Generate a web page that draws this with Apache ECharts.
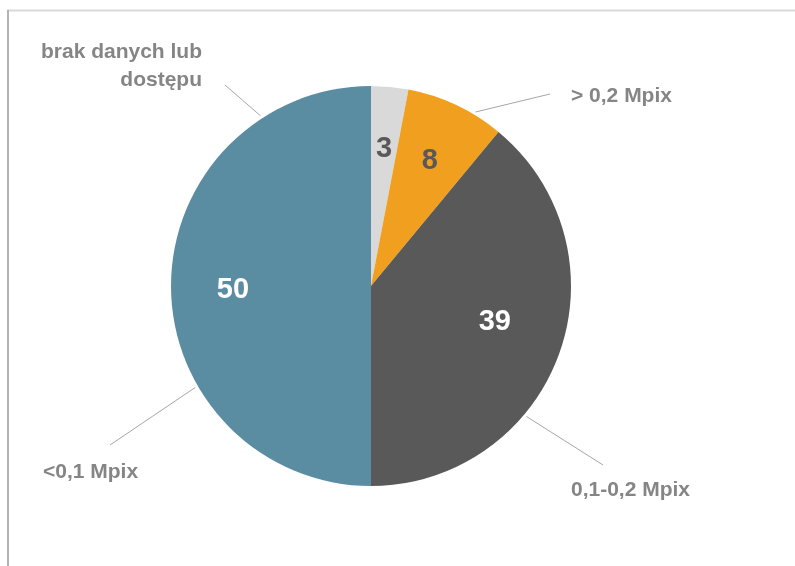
<!DOCTYPE html>
<html>
<head>
<meta charset="utf-8">
<script src="https://cdn.jsdelivr.net/npm/echarts@6/dist/echarts.min.js"></script>
<style>
  html, body { margin: 0; padding: 0; background: #ffffff; }
  #chart { width: 795px; height: 566px; }
</style>
</head>
<body>
<div id="chart"></div>
<script>
// Share of images by resolution class (percent)
const categories = ['brak danych lub\ndostępu', '> 0,2 Mpix', '0,1-0,2 Mpix', '<0,1 Mpix'];
const values = [3, 8, 39, 50];

const sliceColors = ['#d9d9d9', '#f0a01e', '#595959', '#5a8ca2'];
const valueLabelColors = ['#595959', '#595959', '#ffffff', '#ffffff'];
// small nudges of the in-slice value labels away from the default mid-ring spot
const valueLabelShift = [[0, 0], [0, 0], [-6, -11], [0, 4]];

const CX = 371, CY = 286, R = 200;

// Callout placement for each category label: the leader line starts on the rim at
// `angle` (degrees clockwise from 12 o'clock); lineEnd and text are offsets from the pie centre.
const callouts = [
  { angle: 327, lineEnd: [-146, -201], text: [-169, -220], align: 'right' },
  { angle: 31,  lineEnd: [179, -192],  text: [200, -190],  align: 'left' },
  { angle: 130, lineEnd: [232, 179],   text: [200, 204],   align: 'left' },
  { angle: 240, lineEnd: [-261, 159],  text: [-328, 186],  align: 'left' }
];

const pieData = categories.map((name, i) => ({
  name: name,
  value: values[i],
  itemStyle: { color: sliceColors[i] }
}));

const valueData = categories.map((name, i) => ({
  name: name,
  value: values[i],
  label: { color: valueLabelColors[i], offset: valueLabelShift[i] }
}));

const chart = echarts.init(document.getElementById('chart'), null, { renderer: 'canvas' });

chart.setOption({
  backgroundColor: '#ffffff',
  animation: false,
  graphic: [
    { type: 'line', silent: true, shape: { x1: 7, y1: 10.5, x2: 795, y2: 10.5 },
      style: { stroke: '#d9d9d9', lineWidth: 2 } },
    { type: 'line', silent: true, shape: { x1: 8, y1: 10, x2: 8, y2: 566 },
      style: { stroke: '#b4b4b4', lineWidth: 2 } }
  ],
  series: [
    {
      type: 'pie',
      center: [CX, CY],
      radius: [0, R],
      startAngle: 90,
      clockwise: true,
      avoidLabelOverlap: false,
      silent: true,
      itemStyle: { borderWidth: 0 },
      label: {
        show: true,
        position: 'outside',
        formatter: '{b}',
        fontFamily: 'Liberation Sans',
        fontWeight: 'bold',
        fontSize: 21,
        lineHeight: 28,
        color: '#858585'
      },
      labelLine: {
        show: true,
        length: 10,
        length2: 10,
        lineStyle: { color: '#a6a6a6', width: 1 }
      },
      labelLayout: function (params) {
        const c = callouts[params.dataIndex];
        const a = c.angle * Math.PI / 180;
        const start = [CX + (R + 3) * Math.sin(a), CY - (R + 3) * Math.cos(a)];
        const end = [CX + c.lineEnd[0], CY + c.lineEnd[1]];
        const mid = [(start[0] + end[0]) / 2, (start[1] + end[1]) / 2];
        return {
          x: CX + c.text[0],
          y: CY + c.text[1],
          align: c.align,
          verticalAlign: 'middle',
          labelLinePoints: [start, mid, end]
        };
      },
      data: pieData
    },
    {
      // transparent overlay carrying the value labels inside the slices
      type: 'pie',
      center: [CX, CY],
      radius: [70, R],
      startAngle: 90,
      clockwise: true,
      silent: true,
      itemStyle: { color: 'rgba(0,0,0,0)' },
      label: {
        show: true,
        position: 'inside',
        formatter: '{c}',
        fontFamily: 'Liberation Sans',
        fontWeight: 'bold',
        fontSize: 29
      },
      labelLine: { show: false },
      data: valueData
    }
  ]
});
</script>
</body>
</html>
